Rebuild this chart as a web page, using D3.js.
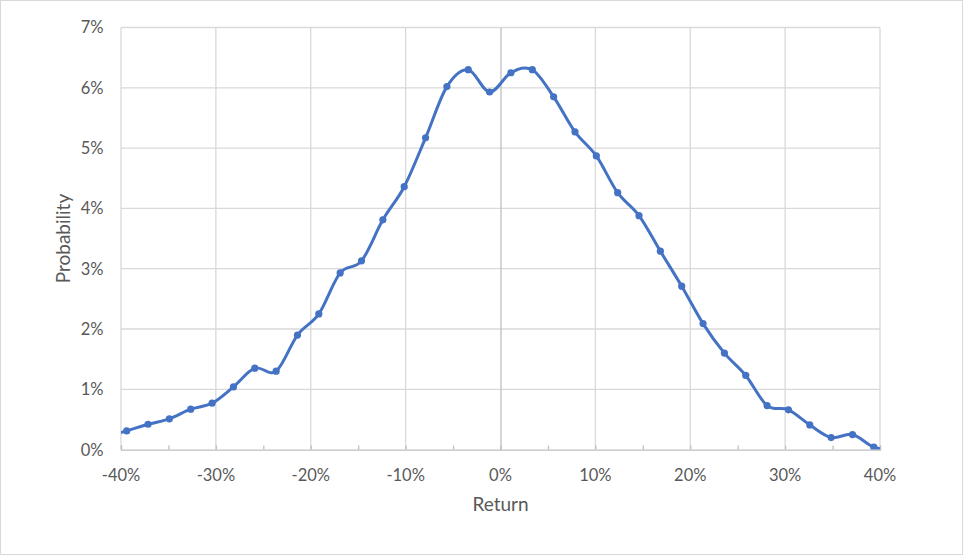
<!DOCTYPE html>
<html><head><meta charset="utf-8">
<script src="https://cdn.jsdelivr.net/npm/d3@7"></script>
<style>
html,body{margin:0;padding:0;background:#fff;}
svg text{font-family:Lato,"Open Sans",sans-serif;fill:#595959;}
</style></head>
<body><svg id="chart" width="966" height="557"></svg>
<script>
// Returns (%) and probabilities (%)
const returns = [-41.65, -39.4, -37.15, -34.9, -32.65, -30.4, -28.15, -25.9, -23.65, -21.4, -19.15,
  -16.9, -14.65, -12.4, -10.15, -7.9, -5.65, -3.4, -1.15, 1.1, 3.35, 5.6, 7.85, 10.1,
  12.35, 14.6, 16.85, 19.1, 21.35, 23.6, 25.85, 28.1, 30.35, 32.6, 34.85, 37.1, 39.35, 41.6];
const probability = [0.21, 0.31, 0.42, 0.51, 0.67, 0.77, 1.04, 1.35, 1.30, 1.90, 2.25,
  2.93, 3.13, 3.81, 4.36, 5.17, 6.02, 6.30, 5.93, 6.25, 6.30, 5.85, 5.27, 4.87,
  4.26, 3.88, 3.29, 2.71, 2.09, 1.60, 1.23, 0.73, 0.66, 0.41, 0.20, 0.25, 0.04, 0.00];
const xTicks = [-40, -30, -20, -10, 0, 10, 20, 30, 40];
const xMinorTicks = [-40, -35, -30, -25, -20, -15, -10, -5, 0, 5, 10, 15, 20, 25, 30, 35, 40];
const yTicks = [0, 1, 2, 3, 4, 5, 6, 7];
const xTitle = "Return";
const yTitle = "Probability";

const data = returns.map((r, i) => ({x: r, y: probability[i]}));

const svg = d3.select("#chart");
const L = 121, R = 880, T = 27.5, B = 449.6;
const x = d3.scaleLinear().domain([-40, 40]).range([L, R]);
const y = d3.scaleLinear().domain([0, 7]).range([B, T]);

svg.append("rect").attr("x", 0.5).attr("y", 0.5).attr("width", 962).attr("height", 554)
  .attr("fill", "#fff").attr("stroke", "#D9D9D9").attr("stroke-width", 1);

svg.append("defs").append("clipPath").attr("id", "plotclip")
  .append("rect").attr("x", L).attr("y", T - 10).attr("width", R - L).attr("height", B - T + 10);

// gridlines
const grid = svg.append("g");
grid.selectAll("line.h").data(yTicks.filter(d => d > 0)).join("line")
  .attr("x1", L).attr("x2", R).attr("y1", d => y(d)).attr("y2", d => y(d))
  .attr("stroke", "#D9D9D9").attr("stroke-width", 1.3);
grid.selectAll("line.v").data(xTicks.filter(d => d !== 0)).join("line")
  .attr("x1", d => x(d)).attr("x2", d => x(d)).attr("y1", T).attr("y2", B)
  .attr("stroke", "#D9D9D9").attr("stroke-width", 1.3);

// x axis (bottom) with inward ticks
const xAxis = d3.axisBottom(x).tickValues(xMinorTicks).tickSize(-4).tickFormat("");
const gx = svg.append("g").attr("transform", `translate(0,${B})`).call(xAxis);
gx.select(".domain").attr("stroke", "#BFBFBF").attr("stroke-width", 1.3);
gx.selectAll(".tick line").attr("stroke", "#BFBFBF").attr("stroke-width", 1.3);

// x tick labels
svg.append("g").selectAll("text").data(xTicks).join("text")
  .attr("x", d => x(d)).attr("y", 481)
  .attr("text-anchor", "middle").attr("font-size", 16.5)
  .text(d => d + "%");

// vertical axis at 0
const yAxis = d3.axisLeft(y).tickValues(yTicks).tickSize(0).tickFormat("");
const gy = svg.append("g").attr("transform", `translate(${x(0)},0)`).call(yAxis);
gy.select(".domain").attr("stroke", "#BFBFBF").attr("stroke-width", 1.3);

// y tick labels
svg.append("g").selectAll("text").data(yTicks).join("text")
  .attr("x", 103.5).attr("y", d => y(d)).attr("dy", "0.36em")
  .attr("text-anchor", "end").attr("font-size", 16.5)
  .text(d => d + "%");

// axis titles
svg.append("text").attr("x", (L + R) / 2).attr("y", 511)
  .attr("text-anchor", "middle").attr("font-size", 19).text(xTitle);
svg.append("text").attr("transform", `translate(70,${(T + B) / 2}) rotate(-90)`)
  .attr("text-anchor", "middle").attr("font-size", 19).text(yTitle);

// series
const plot = svg.append("g").attr("clip-path", "url(#plotclip)");
const line = d3.line().x(d => x(d.x)).y(d => y(d.y)).curve(d3.curveCardinal.tension(0));
plot.append("path").datum(data).attr("d", line)
  .attr("fill", "none").attr("stroke", "#4472C4").attr("stroke-width", 3)
  .attr("stroke-linejoin", "round").attr("stroke-linecap", "round");
plot.selectAll("circle").data(data).join("circle")
  .attr("cx", d => x(d.x)).attr("cy", d => y(d.y)).attr("r", 3.6)
  .attr("fill", "#4472C4");
</script></body></html>
